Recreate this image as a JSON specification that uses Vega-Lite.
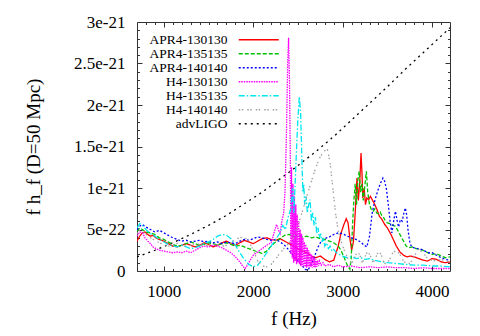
{
"$schema":"https://vega.github.io/schema/vega-lite/v6.json",
"width":313,"height":249,
"autosize":{"type":"none"},
"padding":{"left":137,"top":22,"right":30,"bottom":65},
"background":"white",
"config":{
"view":{"stroke":"#333","strokeWidth":1},
"font":"Liberation Serif",
"style":{"guide-label":{"font":"Liberation Serif","fontSize":17,"fill":"#000"},"guide-title":{"font":"Liberation Serif","fontSize":19,"fontWeight":"normal","fill":"#000"}},
"axis":{"grid":false,"domain":false,"tickColor":"#333","labelFont":"Liberation Serif","titleFont":"Liberation Serif","labelFontSize":17,"titleFontSize":19,"titleFontWeight":"normal","labelColor":"#000","titleColor":"#000"}
},
"data":{"values":[
{"s":"advLIGO","f":700,"v":0.17},{"s":"advLIGO","f":900,"v":0.25},{"s":"advLIGO","f":1100,"v":0.34},{"s":"advLIGO","f":1300,"v":0.44},{"s":"advLIGO","f":1500,"v":0.55},{"s":"advLIGO","f":1700,"v":0.67},{"s":"advLIGO","f":1900,"v":0.81},{"s":"advLIGO","f":2100,"v":0.95},{"s":"advLIGO","f":2300,"v":1.11},{"s":"advLIGO","f":2500,"v":1.27},{"s":"advLIGO","f":2700,"v":1.44},{"s":"advLIGO","f":2900,"v":1.62},{"s":"advLIGO","f":3100,"v":1.82},{"s":"advLIGO","f":3300,"v":2.02},{"s":"advLIGO","f":3500,"v":2.22},{"s":"advLIGO","f":3700,"v":2.43},{"s":"advLIGO","f":3900,"v":2.63},{"s":"advLIGO","f":4100,"v":2.83},{"s":"advLIGO","f":4200,"v":2.93},

{"s":"APR4-130130","f":700,"v":0.36},{"s":"APR4-130130","f":730,"v":0.42},{"s":"APR4-130130","f":760,"v":0.46},{"s":"APR4-130130","f":790,"v":0.47},{"s":"APR4-130130","f":820,"v":0.44},{"s":"APR4-130130","f":850,"v":0.42},{"s":"APR4-130130","f":880,"v":0.43},{"s":"APR4-130130","f":910,"v":0.40},{"s":"APR4-130130","f":950,"v":0.38},{"s":"APR4-130130","f":1000,"v":0.36},{"s":"APR4-130130","f":1050,"v":0.33},{"s":"APR4-130130","f":1100,"v":0.30},{"s":"APR4-130130","f":1150,"v":0.29},{"s":"APR4-130130","f":1200,"v":0.31},{"s":"APR4-130130","f":1250,"v":0.33},{"s":"APR4-130130","f":1300,"v":0.31},{"s":"APR4-130130","f":1350,"v":0.29},{"s":"APR4-130130","f":1400,"v":0.31},{"s":"APR4-130130","f":1450,"v":0.34},{"s":"APR4-130130","f":1500,"v":0.32},{"s":"APR4-130130","f":1550,"v":0.29},{"s":"APR4-130130","f":1600,"v":0.31},{"s":"APR4-130130","f":1650,"v":0.34},{"s":"APR4-130130","f":1700,"v":0.36},{"s":"APR4-130130","f":1750,"v":0.33},{"s":"APR4-130130","f":1800,"v":0.31},{"s":"APR4-130130","f":1850,"v":0.34},{"s":"APR4-130130","f":1900,"v":0.37},{"s":"APR4-130130","f":1950,"v":0.35},{"s":"APR4-130130","f":2000,"v":0.33},{"s":"APR4-130130","f":2050,"v":0.36},{"s":"APR4-130130","f":2100,"v":0.39},{"s":"APR4-130130","f":2150,"v":0.40},{"s":"APR4-130130","f":2200,"v":0.38},{"s":"APR4-130130","f":2250,"v":0.37},{"s":"APR4-130130","f":2300,"v":0.39},{"s":"APR4-130130","f":2350,"v":0.36},{"s":"APR4-130130","f":2400,"v":0.33},{"s":"APR4-130130","f":2450,"v":0.30},{"s":"APR4-130130","f":2500,"v":0.27},{"s":"APR4-130130","f":2550,"v":0.24},{"s":"APR4-130130","f":2600,"v":0.22},{"s":"APR4-130130","f":2650,"v":0.18},{"s":"APR4-130130","f":2700,"v":0.16},{"s":"APR4-130130","f":2750,"v":0.18},{"s":"APR4-130130","f":2800,"v":0.14},{"s":"APR4-130130","f":2850,"v":0.11},{"s":"APR4-130130","f":2900,"v":0.13},{"s":"APR4-130130","f":2950,"v":0.30},{"s":"APR4-130130","f":2980,"v":0.45},{"s":"APR4-130130","f":3010,"v":0.55},{"s":"APR4-130130","f":3040,"v":0.63},{"s":"APR4-130130","f":3060,"v":0.58},{"s":"APR4-130130","f":3080,"v":0.40},{"s":"APR4-130130","f":3100,"v":0.25},{"s":"APR4-130130","f":3120,"v":0.35},{"s":"APR4-130130","f":3140,"v":0.70},{"s":"APR4-130130","f":3160,"v":1.12},{"s":"APR4-130130","f":3175,"v":0.85},{"s":"APR4-130130","f":3190,"v":1.05},{"s":"APR4-130130","f":3205,"v":1.42},{"s":"APR4-130130","f":3215,"v":1.20},{"s":"APR4-130130","f":3225,"v":0.88},{"s":"APR4-130130","f":3240,"v":1.00},{"s":"APR4-130130","f":3255,"v":0.80},{"s":"APR4-130130","f":3270,"v":0.88},{"s":"APR4-130130","f":3290,"v":0.86},{"s":"APR4-130130","f":3310,"v":0.90},{"s":"APR4-130130","f":3330,"v":0.86},{"s":"APR4-130130","f":3350,"v":0.82},{"s":"APR4-130130","f":3380,"v":0.75},{"s":"APR4-130130","f":3410,"v":0.66},{"s":"APR4-130130","f":3440,"v":0.62},{"s":"APR4-130130","f":3470,"v":0.56},{"s":"APR4-130130","f":3500,"v":0.52},{"s":"APR4-130130","f":3540,"v":0.44},{"s":"APR4-130130","f":3570,"v":0.37},{"s":"APR4-130130","f":3600,"v":0.30},{"s":"APR4-130130","f":3640,"v":0.23},{"s":"APR4-130130","f":3680,"v":0.19},{"s":"APR4-130130","f":3720,"v":0.17},{"s":"APR4-130130","f":3760,"v":0.18},{"s":"APR4-130130","f":3800,"v":0.17},{"s":"APR4-130130","f":3850,"v":0.15},{"s":"APR4-130130","f":3900,"v":0.13},{"s":"APR4-130130","f":3950,"v":0.12},{"s":"APR4-130130","f":4000,"v":0.15},{"s":"APR4-130130","f":4050,"v":0.14},{"s":"APR4-130130","f":4100,"v":0.11},{"s":"APR4-130130","f":4150,"v":0.10},{"s":"APR4-130130","f":4200,"v":0.11},

{"s":"APR4-135135","f":700,"v":0.48},{"s":"APR4-135135","f":730,"v":0.52},{"s":"APR4-135135","f":760,"v":0.50},{"s":"APR4-135135","f":800,"v":0.47},{"s":"APR4-135135","f":850,"v":0.46},{"s":"APR4-135135","f":900,"v":0.44},{"s":"APR4-135135","f":950,"v":0.40},{"s":"APR4-135135","f":1000,"v":0.38},{"s":"APR4-135135","f":1050,"v":0.35},{"s":"APR4-135135","f":1100,"v":0.32},{"s":"APR4-135135","f":1150,"v":0.30},{"s":"APR4-135135","f":1200,"v":0.31},{"s":"APR4-135135","f":1250,"v":0.33},{"s":"APR4-135135","f":1300,"v":0.35},{"s":"APR4-135135","f":1350,"v":0.33},{"s":"APR4-135135","f":1400,"v":0.31},{"s":"APR4-135135","f":1450,"v":0.32},{"s":"APR4-135135","f":1500,"v":0.34},{"s":"APR4-135135","f":1550,"v":0.33},{"s":"APR4-135135","f":1600,"v":0.31},{"s":"APR4-135135","f":1650,"v":0.33},{"s":"APR4-135135","f":1700,"v":0.34},{"s":"APR4-135135","f":1750,"v":0.32},{"s":"APR4-135135","f":1800,"v":0.30},{"s":"APR4-135135","f":1850,"v":0.31},{"s":"APR4-135135","f":1900,"v":0.29},{"s":"APR4-135135","f":1950,"v":0.27},{"s":"APR4-135135","f":2000,"v":0.25},{"s":"APR4-135135","f":2050,"v":0.23},{"s":"APR4-135135","f":2100,"v":0.21},{"s":"APR4-135135","f":2150,"v":0.24},{"s":"APR4-135135","f":2200,"v":0.30},{"s":"APR4-135135","f":2250,"v":0.35},{"s":"APR4-135135","f":2300,"v":0.39},{"s":"APR4-135135","f":2350,"v":0.43},{"s":"APR4-135135","f":2400,"v":0.44},{"s":"APR4-135135","f":2450,"v":0.42},{"s":"APR4-135135","f":2500,"v":0.43},{"s":"APR4-135135","f":2550,"v":0.41},{"s":"APR4-135135","f":2600,"v":0.42},{"s":"APR4-135135","f":2650,"v":0.40},{"s":"APR4-135135","f":2700,"v":0.41},{"s":"APR4-135135","f":2750,"v":0.39},{"s":"APR4-135135","f":2800,"v":0.38},{"s":"APR4-135135","f":2850,"v":0.36},{"s":"APR4-135135","f":2900,"v":0.34},{"s":"APR4-135135","f":2950,"v":0.30},{"s":"APR4-135135","f":2980,"v":0.25},{"s":"APR4-135135","f":3010,"v":0.18},{"s":"APR4-135135","f":3040,"v":0.10},{"s":"APR4-135135","f":3060,"v":0.05},{"s":"APR4-135135","f":3080,"v":0.02},{"s":"APR4-135135","f":3095,"v":0.15},{"s":"APR4-135135","f":3110,"v":0.55},{"s":"APR4-135135","f":3125,"v":0.85},{"s":"APR4-135135","f":3140,"v":1.05},{"s":"APR4-135135","f":3155,"v":0.80},{"s":"APR4-135135","f":3170,"v":1.10},{"s":"APR4-135135","f":3185,"v":1.20},{"s":"APR4-135135","f":3200,"v":0.95},{"s":"APR4-135135","f":3215,"v":1.05},{"s":"APR4-135135","f":3230,"v":0.85},{"s":"APR4-135135","f":3250,"v":1.05},{"s":"APR4-135135","f":3265,"v":1.20},{"s":"APR4-135135","f":3280,"v":0.95},{"s":"APR4-135135","f":3300,"v":0.80},{"s":"APR4-135135","f":3320,"v":0.74},{"s":"APR4-135135","f":3340,"v":0.72},{"s":"APR4-135135","f":3360,"v":0.75},{"s":"APR4-135135","f":3380,"v":0.70},{"s":"APR4-135135","f":3400,"v":0.69},{"s":"APR4-135135","f":3420,"v":0.71},{"s":"APR4-135135","f":3440,"v":0.66},{"s":"APR4-135135","f":3460,"v":0.64},{"s":"APR4-135135","f":3480,"v":0.60},{"s":"APR4-135135","f":3500,"v":0.58},{"s":"APR4-135135","f":3530,"v":0.57},{"s":"APR4-135135","f":3560,"v":0.55},{"s":"APR4-135135","f":3590,"v":0.54},{"s":"APR4-135135","f":3620,"v":0.48},{"s":"APR4-135135","f":3650,"v":0.42},{"s":"APR4-135135","f":3680,"v":0.36},{"s":"APR4-135135","f":3710,"v":0.30},{"s":"APR4-135135","f":3740,"v":0.28},{"s":"APR4-135135","f":3780,"v":0.29},{"s":"APR4-135135","f":3820,"v":0.27},{"s":"APR4-135135","f":3860,"v":0.26},{"s":"APR4-135135","f":3900,"v":0.25},{"s":"APR4-135135","f":3950,"v":0.22},{"s":"APR4-135135","f":4000,"v":0.20},{"s":"APR4-135135","f":4050,"v":0.21},{"s":"APR4-135135","f":4100,"v":0.18},{"s":"APR4-135135","f":4150,"v":0.16},{"s":"APR4-135135","f":4200,"v":0.17},

{"s":"APR4-140140","f":700,"v":0.50},{"s":"APR4-140140","f":730,"v":0.54},{"s":"APR4-140140","f":760,"v":0.56},{"s":"APR4-140140","f":800,"v":0.53},{"s":"APR4-140140","f":850,"v":0.50},{"s":"APR4-140140","f":900,"v":0.47},{"s":"APR4-140140","f":950,"v":0.49},{"s":"APR4-140140","f":1000,"v":0.46},{"s":"APR4-140140","f":1050,"v":0.43},{"s":"APR4-140140","f":1100,"v":0.40},{"s":"APR4-140140","f":1150,"v":0.38},{"s":"APR4-140140","f":1200,"v":0.36},{"s":"APR4-140140","f":1250,"v":0.37},{"s":"APR4-140140","f":1300,"v":0.35},{"s":"APR4-140140","f":1350,"v":0.36},{"s":"APR4-140140","f":1400,"v":0.37},{"s":"APR4-140140","f":1450,"v":0.35},{"s":"APR4-140140","f":1500,"v":0.36},{"s":"APR4-140140","f":1550,"v":0.34},{"s":"APR4-140140","f":1600,"v":0.35},{"s":"APR4-140140","f":1650,"v":0.33},{"s":"APR4-140140","f":1700,"v":0.35},{"s":"APR4-140140","f":1750,"v":0.34},{"s":"APR4-140140","f":1800,"v":0.33},{"s":"APR4-140140","f":1850,"v":0.36},{"s":"APR4-140140","f":1900,"v":0.38},{"s":"APR4-140140","f":1950,"v":0.37},{"s":"APR4-140140","f":2000,"v":0.39},{"s":"APR4-140140","f":2050,"v":0.41},{"s":"APR4-140140","f":2100,"v":0.40},{"s":"APR4-140140","f":2150,"v":0.38},{"s":"APR4-140140","f":2200,"v":0.37},{"s":"APR4-140140","f":2250,"v":0.38},{"s":"APR4-140140","f":2300,"v":0.35},{"s":"APR4-140140","f":2350,"v":0.31},{"s":"APR4-140140","f":2400,"v":0.25},{"s":"APR4-140140","f":2450,"v":0.18},{"s":"APR4-140140","f":2500,"v":0.12},{"s":"APR4-140140","f":2550,"v":0.06},{"s":"APR4-140140","f":2580,"v":0.02},{"s":"APR4-140140","f":2610,"v":0.01},{"s":"APR4-140140","f":2640,"v":0.06},{"s":"APR4-140140","f":2670,"v":0.13},{"s":"APR4-140140","f":2700,"v":0.22},{"s":"APR4-140140","f":2730,"v":0.30},{"s":"APR4-140140","f":2760,"v":0.36},{"s":"APR4-140140","f":2800,"v":0.39},{"s":"APR4-140140","f":2850,"v":0.41},{"s":"APR4-140140","f":2900,"v":0.44},{"s":"APR4-140140","f":2950,"v":0.46},{"s":"APR4-140140","f":3000,"v":0.45},{"s":"APR4-140140","f":3050,"v":0.42},{"s":"APR4-140140","f":3100,"v":0.40},{"s":"APR4-140140","f":3150,"v":0.38},{"s":"APR4-140140","f":3200,"v":0.35},{"s":"APR4-140140","f":3240,"v":0.31},{"s":"APR4-140140","f":3270,"v":0.29},{"s":"APR4-140140","f":3300,"v":0.42},{"s":"APR4-140140","f":3330,"v":0.70},{"s":"APR4-140140","f":3360,"v":0.85},{"s":"APR4-140140","f":3390,"v":0.96},{"s":"APR4-140140","f":3420,"v":1.05},{"s":"APR4-140140","f":3450,"v":1.12},{"s":"APR4-140140","f":3470,"v":1.08},{"s":"APR4-140140","f":3490,"v":0.98},{"s":"APR4-140140","f":3510,"v":0.80},{"s":"APR4-140140","f":3530,"v":0.60},{"s":"APR4-140140","f":3550,"v":0.46},{"s":"APR4-140140","f":3570,"v":0.60},{"s":"APR4-140140","f":3590,"v":0.72},{"s":"APR4-140140","f":3610,"v":0.60},{"s":"APR4-140140","f":3625,"v":0.53},{"s":"APR4-140140","f":3645,"v":0.62},{"s":"APR4-140140","f":3665,"v":0.60},{"s":"APR4-140140","f":3685,"v":0.70},{"s":"APR4-140140","f":3700,"v":0.76},{"s":"APR4-140140","f":3715,"v":0.68},{"s":"APR4-140140","f":3730,"v":0.50},{"s":"APR4-140140","f":3750,"v":0.35},{"s":"APR4-140140","f":3770,"v":0.29},{"s":"APR4-140140","f":3800,"v":0.28},{"s":"APR4-140140","f":3840,"v":0.27},{"s":"APR4-140140","f":3880,"v":0.26},{"s":"APR4-140140","f":3920,"v":0.24},{"s":"APR4-140140","f":3960,"v":0.22},{"s":"APR4-140140","f":4000,"v":0.22},{"s":"APR4-140140","f":4050,"v":0.19},{"s":"APR4-140140","f":4100,"v":0.16},{"s":"APR4-140140","f":4150,"v":0.14},{"s":"APR4-140140","f":4200,"v":0.13},

{"s":"H4-130130","f":700,"v":0.42},{"s":"H4-130130","f":730,"v":0.47},{"s":"H4-130130","f":760,"v":0.46},{"s":"H4-130130","f":790,"v":0.40},{"s":"H4-130130","f":820,"v":0.36},{"s":"H4-130130","f":850,"v":0.33},{"s":"H4-130130","f":880,"v":0.29},{"s":"H4-130130","f":910,"v":0.27},{"s":"H4-130130","f":950,"v":0.25},{"s":"H4-130130","f":1000,"v":0.24},{"s":"H4-130130","f":1050,"v":0.23},{"s":"H4-130130","f":1100,"v":0.22},{"s":"H4-130130","f":1150,"v":0.23},{"s":"H4-130130","f":1200,"v":0.22},{"s":"H4-130130","f":1250,"v":0.24},{"s":"H4-130130","f":1300,"v":0.22},{"s":"H4-130130","f":1350,"v":0.25},{"s":"H4-130130","f":1400,"v":0.28},{"s":"H4-130130","f":1450,"v":0.30},{"s":"H4-130130","f":1500,"v":0.29},{"s":"H4-130130","f":1550,"v":0.31},{"s":"H4-130130","f":1600,"v":0.30},{"s":"H4-130130","f":1650,"v":0.28},{"s":"H4-130130","f":1700,"v":0.25},{"s":"H4-130130","f":1750,"v":0.22},{"s":"H4-130130","f":1800,"v":0.17},{"s":"H4-130130","f":1850,"v":0.11},{"s":"H4-130130","f":1880,"v":0.06},{"s":"H4-130130","f":1910,"v":0.03},{"s":"H4-130130","f":1940,"v":0.08},{"s":"H4-130130","f":1970,"v":0.14},{"s":"H4-130130","f":2000,"v":0.19},{"s":"H4-130130","f":2050,"v":0.23},{"s":"H4-130130","f":2100,"v":0.27},{"s":"H4-130130","f":2150,"v":0.31},{"s":"H4-130130","f":2200,"v":0.34},{"s":"H4-130130","f":2230,"v":0.45},{"s":"H4-130130","f":2260,"v":0.56},{"s":"H4-130130","f":2280,"v":0.50},{"s":"H4-130130","f":2300,"v":0.45},{"s":"H4-130130","f":2320,"v":0.60},{"s":"H4-130130","f":2340,"v":0.70},{"s":"H4-130130","f":2355,"v":0.95},{"s":"H4-130130","f":2370,"v":1.6},{"s":"H4-130130","f":2385,"v":2.5},{"s":"H4-130130","f":2395,"v":2.81},{"s":"H4-130130","f":2405,"v":2.3},{"s":"H4-130130","f":2415,"v":1.3},{"s":"H4-130130","f":2420,"v":0.2},{"s":"H4-130130","f":2428,"v":1.25},{"s":"H4-130130","f":2436,"v":0.15},{"s":"H4-130130","f":2444,"v":1.05},{"s":"H4-130130","f":2452,"v":0.10},{"s":"H4-130130","f":2460,"v":0.9},{"s":"H4-130130","f":2468,"v":0.12},{"s":"H4-130130","f":2476,"v":0.8},{"s":"H4-130130","f":2484,"v":0.08},{"s":"H4-130130","f":2492,"v":0.68},{"s":"H4-130130","f":2500,"v":0.10},{"s":"H4-130130","f":2508,"v":0.6},{"s":"H4-130130","f":2516,"v":0.08},{"s":"H4-130130","f":2524,"v":0.5},{"s":"H4-130130","f":2532,"v":0.06},{"s":"H4-130130","f":2540,"v":0.45},{"s":"H4-130130","f":2548,"v":0.05},{"s":"H4-130130","f":2556,"v":0.40},{"s":"H4-130130","f":2564,"v":0.06},{"s":"H4-130130","f":2572,"v":0.35},{"s":"H4-130130","f":2580,"v":0.05},{"s":"H4-130130","f":2588,"v":0.32},{"s":"H4-130130","f":2596,"v":0.04},{"s":"H4-130130","f":2604,"v":0.28},{"s":"H4-130130","f":2612,"v":0.05},{"s":"H4-130130","f":2620,"v":0.25},{"s":"H4-130130","f":2628,"v":0.04},{"s":"H4-130130","f":2636,"v":0.22},{"s":"H4-130130","f":2644,"v":0.05},{"s":"H4-130130","f":2652,"v":0.2},{"s":"H4-130130","f":2660,"v":0.04},{"s":"H4-130130","f":2668,"v":0.18},{"s":"H4-130130","f":2676,"v":0.05},{"s":"H4-130130","f":2684,"v":0.16},{"s":"H4-130130","f":2692,"v":0.04},{"s":"H4-130130","f":2700,"v":0.14},{"s":"H4-130130","f":2710,"v":0.05},{"s":"H4-130130","f":2720,"v":0.13},{"s":"H4-130130","f":2730,"v":0.06},{"s":"H4-130130","f":2740,"v":0.12},{"s":"H4-130130","f":2760,"v":0.07},{"s":"H4-130130","f":2780,"v":0.10},{"s":"H4-130130","f":2800,"v":0.06},{"s":"H4-130130","f":2850,"v":0.08},{"s":"H4-130130","f":2900,"v":0.05},{"s":"H4-130130","f":2950,"v":0.07},{"s":"H4-130130","f":3000,"v":0.05},{"s":"H4-130130","f":3100,"v":0.06},{"s":"H4-130130","f":3200,"v":0.04},{"s":"H4-130130","f":3300,"v":0.05},{"s":"H4-130130","f":3400,"v":0.04},{"s":"H4-130130","f":3500,"v":0.05},{"s":"H4-130130","f":3600,"v":0.04},{"s":"H4-130130","f":3700,"v":0.04},{"s":"H4-130130","f":3800,"v":0.03},{"s":"H4-130130","f":3900,"v":0.04},{"s":"H4-130130","f":4000,"v":0.03},{"s":"H4-130130","f":4100,"v":0.03},{"s":"H4-130130","f":4200,"v":0.03},

{"s":"H4-135135","f":700,"v":0.52},{"s":"H4-135135","f":730,"v":0.57},{"s":"H4-135135","f":760,"v":0.55},{"s":"H4-135135","f":800,"v":0.50},{"s":"H4-135135","f":850,"v":0.45},{"s":"H4-135135","f":900,"v":0.42},{"s":"H4-135135","f":950,"v":0.38},{"s":"H4-135135","f":1000,"v":0.35},{"s":"H4-135135","f":1050,"v":0.32},{"s":"H4-135135","f":1100,"v":0.30},{"s":"H4-135135","f":1150,"v":0.29},{"s":"H4-135135","f":1200,"v":0.31},{"s":"H4-135135","f":1250,"v":0.29},{"s":"H4-135135","f":1300,"v":0.27},{"s":"H4-135135","f":1350,"v":0.28},{"s":"H4-135135","f":1400,"v":0.30},{"s":"H4-135135","f":1450,"v":0.33},{"s":"H4-135135","f":1500,"v":0.35},{"s":"H4-135135","f":1550,"v":0.38},{"s":"H4-135135","f":1600,"v":0.42},{"s":"H4-135135","f":1650,"v":0.44},{"s":"H4-135135","f":1700,"v":0.43},{"s":"H4-135135","f":1750,"v":0.39},{"s":"H4-135135","f":1800,"v":0.31},{"s":"H4-135135","f":1850,"v":0.22},{"s":"H4-135135","f":1900,"v":0.14},{"s":"H4-135135","f":1950,"v":0.08},{"s":"H4-135135","f":2000,"v":0.05},{"s":"H4-135135","f":2050,"v":0.07},{"s":"H4-135135","f":2100,"v":0.14},{"s":"H4-135135","f":2150,"v":0.22},{"s":"H4-135135","f":2200,"v":0.30},{"s":"H4-135135","f":2250,"v":0.38},{"s":"H4-135135","f":2300,"v":0.46},{"s":"H4-135135","f":2330,"v":0.55},{"s":"H4-135135","f":2360,"v":0.50},{"s":"H4-135135","f":2390,"v":0.65},{"s":"H4-135135","f":2420,"v":0.75},{"s":"H4-135135","f":2440,"v":1.00},{"s":"H4-135135","f":2455,"v":0.70},{"s":"H4-135135","f":2470,"v":1.10},{"s":"H4-135135","f":2485,"v":1.50},{"s":"H4-135135","f":2500,"v":1.85},{"s":"H4-135135","f":2515,"v":2.10},{"s":"H4-135135","f":2530,"v":1.90},{"s":"H4-135135","f":2545,"v":1.30},{"s":"H4-135135","f":2555,"v":0.95},{"s":"H4-135135","f":2565,"v":1.05},{"s":"H4-135135","f":2575,"v":0.80},{"s":"H4-135135","f":2590,"v":0.90},{"s":"H4-135135","f":2605,"v":0.70},{"s":"H4-135135","f":2620,"v":0.80},{"s":"H4-135135","f":2635,"v":0.86},{"s":"H4-135135","f":2650,"v":0.60},{"s":"H4-135135","f":2665,"v":0.70},{"s":"H4-135135","f":2680,"v":0.55},{"s":"H4-135135","f":2695,"v":0.65},{"s":"H4-135135","f":2710,"v":0.45},{"s":"H4-135135","f":2725,"v":0.52},{"s":"H4-135135","f":2740,"v":0.40},{"s":"H4-135135","f":2755,"v":0.45},{"s":"H4-135135","f":2770,"v":0.35},{"s":"H4-135135","f":2785,"v":0.40},{"s":"H4-135135","f":2800,"v":0.30},{"s":"H4-135135","f":2820,"v":0.34},{"s":"H4-135135","f":2840,"v":0.27},{"s":"H4-135135","f":2860,"v":0.30},{"s":"H4-135135","f":2880,"v":0.24},{"s":"H4-135135","f":2900,"v":0.26},{"s":"H4-135135","f":2930,"v":0.22},{"s":"H4-135135","f":2960,"v":0.20},{"s":"H4-135135","f":3000,"v":0.18},{"s":"H4-135135","f":3050,"v":0.16},{"s":"H4-135135","f":3100,"v":0.17},{"s":"H4-135135","f":3150,"v":0.15},{"s":"H4-135135","f":3200,"v":0.16},{"s":"H4-135135","f":3250,"v":0.14},{"s":"H4-135135","f":3300,"v":0.15},{"s":"H4-135135","f":3350,"v":0.13},{"s":"H4-135135","f":3400,"v":0.12},{"s":"H4-135135","f":3450,"v":0.11},{"s":"H4-135135","f":3500,"v":0.10},{"s":"H4-135135","f":3600,"v":0.09},{"s":"H4-135135","f":3700,"v":0.08},{"s":"H4-135135","f":3800,"v":0.07},{"s":"H4-135135","f":3900,"v":0.07},{"s":"H4-135135","f":4000,"v":0.06},{"s":"H4-135135","f":4100,"v":0.06},{"s":"H4-135135","f":4200,"v":0.05},

{"s":"H4-140140","f":700,"v":0.45},{"s":"H4-140140","f":730,"v":0.49},{"s":"H4-140140","f":760,"v":0.47},{"s":"H4-140140","f":800,"v":0.44},{"s":"H4-140140","f":850,"v":0.40},{"s":"H4-140140","f":900,"v":0.37},{"s":"H4-140140","f":950,"v":0.34},{"s":"H4-140140","f":1000,"v":0.32},{"s":"H4-140140","f":1050,"v":0.30},{"s":"H4-140140","f":1100,"v":0.31},{"s":"H4-140140","f":1150,"v":0.33},{"s":"H4-140140","f":1200,"v":0.32},{"s":"H4-140140","f":1250,"v":0.30},{"s":"H4-140140","f":1300,"v":0.31},{"s":"H4-140140","f":1350,"v":0.33},{"s":"H4-140140","f":1400,"v":0.32},{"s":"H4-140140","f":1450,"v":0.30},{"s":"H4-140140","f":1500,"v":0.31},{"s":"H4-140140","f":1550,"v":0.33},{"s":"H4-140140","f":1600,"v":0.32},{"s":"H4-140140","f":1650,"v":0.30},{"s":"H4-140140","f":1700,"v":0.31},{"s":"H4-140140","f":1750,"v":0.34},{"s":"H4-140140","f":1800,"v":0.38},{"s":"H4-140140","f":1850,"v":0.40},{"s":"H4-140140","f":1900,"v":0.41},{"s":"H4-140140","f":1950,"v":0.36},{"s":"H4-140140","f":2000,"v":0.25},{"s":"H4-140140","f":2050,"v":0.12},{"s":"H4-140140","f":2100,"v":0.06},{"s":"H4-140140","f":2150,"v":0.05},{"s":"H4-140140","f":2200,"v":0.08},{"s":"H4-140140","f":2250,"v":0.14},{"s":"H4-140140","f":2300,"v":0.22},{"s":"H4-140140","f":2350,"v":0.28},{"s":"H4-140140","f":2400,"v":0.34},{"s":"H4-140140","f":2450,"v":0.40},{"s":"H4-140140","f":2500,"v":0.55},{"s":"H4-140140","f":2550,"v":0.72},{"s":"H4-140140","f":2600,"v":0.90},{"s":"H4-140140","f":2650,"v":1.08},{"s":"H4-140140","f":2700,"v":1.25},{"s":"H4-140140","f":2750,"v":1.38},{"s":"H4-140140","f":2800,"v":1.45},{"s":"H4-140140","f":2830,"v":1.46},{"s":"H4-140140","f":2860,"v":1.30},{"s":"H4-140140","f":2890,"v":1.00},{"s":"H4-140140","f":2920,"v":0.70},{"s":"H4-140140","f":2950,"v":0.48},{"s":"H4-140140","f":2990,"v":0.33},{"s":"H4-140140","f":3030,"v":0.22},{"s":"H4-140140","f":3070,"v":0.12},{"s":"H4-140140","f":3100,"v":0.09},{"s":"H4-140140","f":3130,"v":0.15},{"s":"H4-140140","f":3160,"v":0.23},{"s":"H4-140140","f":3190,"v":0.20},{"s":"H4-140140","f":3220,"v":0.10},{"s":"H4-140140","f":3250,"v":0.17},{"s":"H4-140140","f":3280,"v":0.24},{"s":"H4-140140","f":3310,"v":0.18},{"s":"H4-140140","f":3340,"v":0.10},{"s":"H4-140140","f":3370,"v":0.16},{"s":"H4-140140","f":3400,"v":0.24},{"s":"H4-140140","f":3430,"v":0.20},{"s":"H4-140140","f":3460,"v":0.10},{"s":"H4-140140","f":3490,"v":0.08},{"s":"H4-140140","f":3520,"v":0.13},{"s":"H4-140140","f":3560,"v":0.22},{"s":"H4-140140","f":3600,"v":0.25},{"s":"H4-140140","f":3640,"v":0.20},{"s":"H4-140140","f":3680,"v":0.12},{"s":"H4-140140","f":3720,"v":0.08},{"s":"H4-140140","f":3760,"v":0.10},{"s":"H4-140140","f":3800,"v":0.18},{"s":"H4-140140","f":3850,"v":0.26},{"s":"H4-140140","f":3900,"v":0.22},{"s":"H4-140140","f":3950,"v":0.15},{"s":"H4-140140","f":4000,"v":0.13},{"s":"H4-140140","f":4050,"v":0.12},{"s":"H4-140140","f":4100,"v":0.14},{"s":"H4-140140","f":4150,"v":0.12},{"s":"H4-140140","f":4200,"v":0.11}
]},
"resolve":{"axis":{"x":"independent","y":"independent"}},
"layer":[
{
"mark":{"type":"line","strokeWidth":1.3,"clip":true},
"encoding":{
"x":{"field":"f","type":"quantitative","scale":{"domain":[700,4200],"nice":false,"zero":false},
 "axis":{"orient":"bottom","values":[1000,2000,3000,4000],"format":"d","tickSize":-5,"labelPadding":17,"labelFont":"Liberation Serif","labelFontSize":17,"labelColor":"#000","title":"f (Hz)","titleFont":"Liberation Serif","titleFontSize":19,"titlePadding":10,"labelFlush":false}},
"y":{"field":"v","type":"quantitative","scale":{"domain":[0,3],"nice":false},
 "axis":{"orient":"left","values":[0,0.5,1,1.5,2,2.5,3],"tickSize":-5,"labelPadding":17,"labelFont":"Liberation Serif","labelFontSize":17,"labelColor":"#000","title":"f h_f (D=50 Mpc)","titleFont":"Liberation Serif","titleFontSize":19,"titlePadding":30,
 "labelExpr":"datum.value==0?'0':datum.value==0.5?'5e-22':datum.value==1?'1e-21':datum.value==1.5?'1.5e-21':datum.value==2?'2e-21':datum.value==2.5?'2.5e-21':'3e-21'","labelFlush":false}},
"color":{"field":"s","type":"nominal","sort":["APR4-130130","APR4-135135","APR4-140140","H4-130130","H4-135135","H4-140140","advLIGO"],
 "scale":{"domain":["APR4-130130","APR4-135135","APR4-140140","H4-130130","H4-135135","H4-140140","advLIGO"],"range":["#ff0000","#00c000","#0000ff","#ff00ff","#00e5ee","#a0a0a0","#000000"]},
 "legend":{"title":null,"orient":"none","legendX":115,"legendY":11,"symbolType":"M-4,0H4","symbolSize":100,"symbolStrokeWidth":1.4,"labelAlign":"right","labelOffset":-38,"labelFont":"Liberation Serif","labelFontSize":13.5,"labelColor":"#000","rowPadding":-1,"padding":0,"labelLimit":200}},
"strokeDash":{"field":"s","type":"nominal","sort":["APR4-130130","APR4-135135","APR4-140140","H4-130130","H4-135135","H4-140140","advLIGO"],
 "scale":{"domain":["APR4-130130","APR4-135135","APR4-140140","H4-130130","H4-135135","H4-140140","advLIGO"],"range":[[1,0],[4,2],[2,2],[1.5,1],[6,2,1.5,2],[1.5,1.5,1.5,4],[2,4]]}}
}
},
{
"mark":{"type":"point","opacity":0},
"encoding":{
"x":{"field":"f","type":"quantitative","axis":{"orient":"bottom","values":[800,900,1100,1200,1300,1400,1500,1600,1700,1800,1900,2100,2200,2300,2400,2500,2600,2700,2800,2900,3100,3200,3300,3400,3500,3600,3700,3800,3900,4100],"tickSize":-2.5,"labels":false,"title":null}},
"y":{"field":"v","type":"quantitative","axis":{"orient":"left","values":[0.1,0.2,0.3,0.4,0.6,0.7,0.8,0.9,1.1,1.2,1.3,1.4,1.6,1.7,1.8,1.9,2.1,2.2,2.3,2.4,2.6,2.7,2.8,2.9],"tickSize":-2.5,"labels":false,"title":null}}
}
},
{
"mark":{"type":"point","opacity":0},
"encoding":{
"x":{"field":"f","type":"quantitative","axis":{"orient":"top","values":[1000,2000,3000,4000],"tickSize":-5,"labels":false,"title":null}},
"y":{"field":"v","type":"quantitative","axis":{"orient":"right","values":[0.5,1,1.5,2,2.5],"tickSize":-5,"labels":false,"title":null}}
}
},
{
"mark":{"type":"point","opacity":0},
"encoding":{
"x":{"field":"f","type":"quantitative","axis":{"orient":"top","values":[800,900,1100,1200,1300,1400,1500,1600,1700,1800,1900,2100,2200,2300,2400,2500,2600,2700,2800,2900,3100,3200,3300,3400,3500,3600,3700,3800,3900,4100],"tickSize":-2.5,"labels":false,"title":null}},
"y":{"field":"v","type":"quantitative","axis":{"orient":"right","values":[0.1,0.2,0.3,0.4,0.6,0.7,0.8,0.9,1.1,1.2,1.3,1.4,1.6,1.7,1.8,1.9,2.1,2.2,2.3,2.4,2.6,2.7,2.8,2.9],"tickSize":-2.5,"labels":false,"title":null}}
}
}
]
}
